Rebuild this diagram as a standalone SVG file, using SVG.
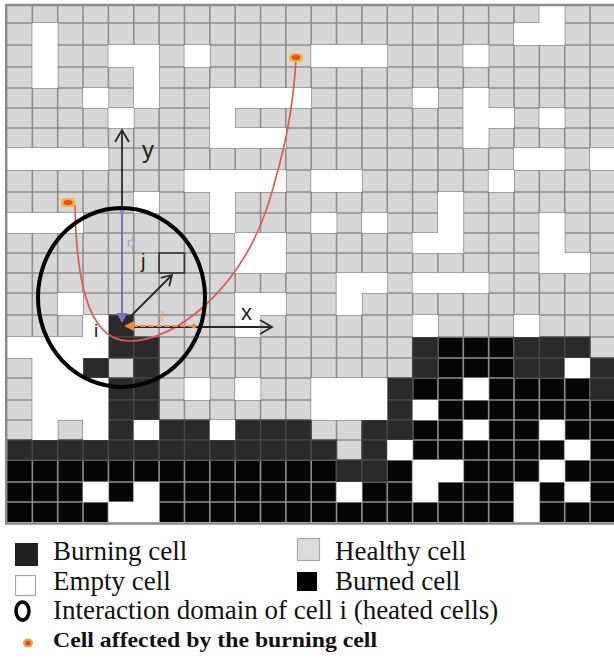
<svg xmlns="http://www.w3.org/2000/svg" width="614" height="661" viewBox="0 0 614 661">
<style>
.w{fill:#fff}
.x{fill:#050505}
.b{fill:#2a2a2a;stroke:#4a4a4a;stroke-width:1.2}
.gl{fill:none;stroke:#8e8e8e;stroke-width:1.6}
.ax{fill:none;stroke:#2a2a2a;stroke-width:1.8}
.lg{font-family:"Liberation Serif","Times New Roman",serif;font-size:27px;fill:#111}
.lb{font-family:"Liberation Sans",Arial,sans-serif;fill:#222}
</style>
<rect width="614" height="661" fill="#fff"/>
<g id="grid">
<rect x="7" y="5" width="608" height="517" fill="#d7d7d7"/>
<!-- burned cells -->
<g id="burned">
<rect class="x" x="437.95" y="337" width="76.05" height="21"/>
<rect class="x" x="437.95" y="358" width="76.05" height="20"/>
<rect class="x" x="412.6" y="378" width="50.7" height="22"/>
<rect class="x" x="488.65" y="378" width="101.4" height="22"/>
<rect class="x" x="437.95" y="400" width="177.45" height="20"/>
<rect class="x" x="412.6" y="420" width="50.7" height="20"/>
<rect class="x" x="488.65" y="420" width="50.7" height="20"/>
<rect class="x" x="564.7" y="420" width="50.7" height="20"/>
<rect class="x" x="412.6" y="440" width="152.1" height="20"/>
<rect class="x" x="590.05" y="440" width="25.35" height="20"/>
<rect class="x" x="7" y="460" width="329.55" height="22"/>
<rect class="x" x="387.25" y="460" width="25.35" height="22"/>
<rect class="x" x="463.3" y="460" width="76.05" height="22"/>
<rect class="x" x="564.7" y="460" width="50.7" height="22"/>
<rect class="x" x="7" y="482" width="76.05" height="20"/>
<rect class="x" x="108.4" y="482" width="25.35" height="20"/>
<rect class="x" x="159.1" y="482" width="177.45" height="20"/>
<rect class="x" x="361.9" y="482" width="50.7" height="20"/>
<rect class="x" x="437.95" y="482" width="76.05" height="20"/>
<rect class="x" x="539.35" y="482" width="25.35" height="20"/>
<rect class="x" x="590.05" y="482" width="25.35" height="20"/>
<rect class="x" x="7" y="502" width="101.4" height="20"/>
<rect class="x" x="159.1" y="502" width="354.9" height="20"/>
<rect class="x" x="539.35" y="502" width="76.05" height="20"/>
</g>
<path class="gl" d="M32.35 5V522M57.7 5V522M83.05 5V522M108.4 5V522M133.75 5V522M159.1 5V522M184.45 5V522M209.8 5V522M235.15 5V522M260.5 5V522M285.85 5V522M311.2 5V522M336.55 5V522M361.9 5V522M387.25 5V522M412.6 5V522M437.95 5V522M463.3 5V522M488.65 5V522M514 5V522M539.35 5V522M564.7 5V522M590.05 5V522M7 23H614M7 45H614M7 67H614M7 88H614M7 108H614M7 128H614M7 148H614M7 170H614M7 192H614M7 213H614M7 233H614M7 253H614M7 273H614M7 293H614M7 315H614M7 337H614M7 358H614M7 378H614M7 400H614M7 420H614M7 440H614M7 460H614M7 482H614M7 502H614"/>
<!-- burning cells -->
<g id="burning">
<rect class="b" x="108.4" y="315" width="25.35" height="22"/>
<rect class="b" x="108.4" y="337" width="25.35" height="21"/>
<rect class="b" x="133.75" y="337" width="25.35" height="21"/>
<rect class="b" x="412.6" y="337" width="25.35" height="21"/>
<rect class="b" x="514" y="337" width="25.35" height="21"/>
<rect class="b" x="539.35" y="337" width="25.35" height="21"/>
<rect class="b" x="564.7" y="337" width="25.35" height="21"/>
<rect class="b" x="83.05" y="358" width="25.35" height="20"/>
<rect class="b" x="133.75" y="358" width="25.35" height="20"/>
<rect class="b" x="412.6" y="358" width="25.35" height="20"/>
<rect class="b" x="514" y="358" width="25.35" height="20"/>
<rect class="b" x="539.35" y="358" width="25.35" height="20"/>
<rect class="b" x="590.05" y="358" width="25.35" height="20"/>
<rect class="b" x="108.4" y="378" width="25.35" height="22"/>
<rect class="b" x="133.75" y="378" width="25.35" height="22"/>
<rect class="b" x="387.25" y="378" width="25.35" height="22"/>
<rect class="b" x="590.05" y="378" width="25.35" height="22"/>
<rect class="b" x="108.4" y="400" width="25.35" height="20"/>
<rect class="b" x="133.75" y="400" width="25.35" height="20"/>
<rect class="b" x="387.25" y="400" width="25.35" height="20"/>
<rect class="b" x="108.4" y="420" width="25.35" height="20"/>
<rect class="b" x="159.1" y="420" width="25.35" height="20"/>
<rect class="b" x="184.45" y="420" width="25.35" height="20"/>
<rect class="b" x="235.15" y="420" width="25.35" height="20"/>
<rect class="b" x="260.5" y="420" width="25.35" height="20"/>
<rect class="b" x="285.85" y="420" width="25.35" height="20"/>
<rect class="b" x="361.9" y="420" width="25.35" height="20"/>
<rect class="b" x="387.25" y="420" width="25.35" height="20"/>
<rect class="b" x="7" y="440" width="25.35" height="20"/>
<rect class="b" x="32.35" y="440" width="25.35" height="20"/>
<rect class="b" x="57.7" y="440" width="25.35" height="20"/>
<rect class="b" x="83.05" y="440" width="25.35" height="20"/>
<rect class="b" x="108.4" y="440" width="25.35" height="20"/>
<rect class="b" x="133.75" y="440" width="25.35" height="20"/>
<rect class="b" x="159.1" y="440" width="25.35" height="20"/>
<rect class="b" x="184.45" y="440" width="25.35" height="20"/>
<rect class="b" x="209.8" y="440" width="25.35" height="20"/>
<rect class="b" x="235.15" y="440" width="25.35" height="20"/>
<rect class="b" x="260.5" y="440" width="25.35" height="20"/>
<rect class="b" x="285.85" y="440" width="25.35" height="20"/>
<rect class="b" x="311.2" y="440" width="25.35" height="20"/>
<rect class="b" x="361.9" y="440" width="25.35" height="20"/>
<rect class="b" x="336.55" y="460" width="25.35" height="22"/>
<rect class="b" x="361.9" y="460" width="25.35" height="22"/>
</g>
<!-- empty cells -->
<g id="empty">
<rect class="w" x="539.35" y="5" width="25.35" height="18"/>
<rect class="w" x="32.35" y="23" width="25.35" height="22"/>
<rect class="w" x="514" y="23" width="50.7" height="22"/>
<rect class="w" x="32.35" y="45" width="25.35" height="22"/>
<rect class="w" x="108.4" y="45" width="50.7" height="22"/>
<rect class="w" x="184.45" y="45" width="25.35" height="22"/>
<rect class="w" x="311.2" y="45" width="76.05" height="22"/>
<rect class="w" x="463.3" y="45" width="25.35" height="22"/>
<rect class="w" x="32.35" y="67" width="25.35" height="21"/>
<rect class="w" x="133.75" y="67" width="25.35" height="21"/>
<rect class="w" x="83.05" y="88" width="25.35" height="20"/>
<rect class="w" x="133.75" y="88" width="25.35" height="20"/>
<rect class="w" x="209.8" y="88" width="101.4" height="20"/>
<rect class="w" x="412.6" y="88" width="25.35" height="20"/>
<rect class="w" x="463.3" y="88" width="25.35" height="20"/>
<rect class="w" x="108.4" y="108" width="25.35" height="20"/>
<rect class="w" x="209.8" y="108" width="25.35" height="20"/>
<rect class="w" x="463.3" y="108" width="50.7" height="20"/>
<rect class="w" x="539.35" y="108" width="25.35" height="20"/>
<rect class="w" x="209.8" y="128" width="76.05" height="20"/>
<rect class="w" x="463.3" y="128" width="25.35" height="20"/>
<rect class="w" x="7" y="148" width="101.4" height="22"/>
<rect class="w" x="514" y="148" width="50.7" height="22"/>
<rect class="w" x="590.05" y="148" width="25.35" height="22"/>
<rect class="w" x="184.45" y="170" width="101.4" height="22"/>
<rect class="w" x="311.2" y="170" width="50.7" height="22"/>
<rect class="w" x="488.65" y="170" width="25.35" height="22"/>
<rect class="w" x="133.75" y="192" width="25.35" height="21"/>
<rect class="w" x="209.8" y="192" width="25.35" height="21"/>
<rect class="w" x="437.95" y="192" width="25.35" height="21"/>
<rect class="w" x="7" y="213" width="76.05" height="20"/>
<rect class="w" x="209.8" y="213" width="25.35" height="20"/>
<rect class="w" x="311.2" y="213" width="25.35" height="20"/>
<rect class="w" x="361.9" y="213" width="25.35" height="20"/>
<rect class="w" x="437.95" y="213" width="25.35" height="20"/>
<rect class="w" x="539.35" y="213" width="25.35" height="20"/>
<rect class="w" x="235.15" y="233" width="50.7" height="20"/>
<rect class="w" x="412.6" y="233" width="50.7" height="20"/>
<rect class="w" x="539.35" y="233" width="25.35" height="20"/>
<rect class="w" x="235.15" y="253" width="50.7" height="20"/>
<rect class="w" x="539.35" y="253" width="50.7" height="20"/>
<rect class="w" x="336.55" y="273" width="50.7" height="20"/>
<rect class="w" x="412.6" y="273" width="76.05" height="20"/>
<rect class="w" x="57.7" y="293" width="25.35" height="22"/>
<rect class="w" x="235.15" y="293" width="50.7" height="22"/>
<rect class="w" x="336.55" y="293" width="25.35" height="22"/>
<rect class="w" x="83.05" y="315" width="25.35" height="22"/>
<rect class="w" x="235.15" y="315" width="25.35" height="22"/>
<rect class="w" x="412.6" y="315" width="25.35" height="22"/>
<rect class="w" x="514" y="315" width="25.35" height="22"/>
<rect class="w" x="7" y="337" width="101.4" height="21"/>
<rect class="w" x="32.35" y="358" width="50.7" height="20"/>
<rect class="w" x="564.7" y="358" width="25.35" height="20"/>
<rect class="w" x="32.35" y="378" width="76.05" height="22"/>
<rect class="w" x="184.45" y="378" width="25.35" height="22"/>
<rect class="w" x="235.15" y="378" width="25.35" height="22"/>
<rect class="w" x="311.2" y="378" width="76.05" height="22"/>
<rect class="w" x="463.3" y="378" width="25.35" height="22"/>
<rect class="w" x="32.35" y="400" width="76.05" height="20"/>
<rect class="w" x="311.2" y="400" width="76.05" height="20"/>
<rect class="w" x="412.6" y="400" width="25.35" height="20"/>
<rect class="w" x="32.35" y="420" width="25.35" height="20"/>
<rect class="w" x="83.05" y="420" width="25.35" height="20"/>
<rect class="w" x="133.75" y="420" width="25.35" height="20"/>
<rect class="w" x="209.8" y="420" width="25.35" height="20"/>
<rect class="w" x="463.3" y="420" width="25.35" height="20"/>
<rect class="w" x="539.35" y="420" width="25.35" height="20"/>
<rect class="w" x="387.25" y="440" width="25.35" height="20"/>
<rect class="w" x="564.7" y="440" width="25.35" height="20"/>
<rect class="w" x="412.6" y="460" width="50.7" height="22"/>
<rect class="w" x="539.35" y="460" width="25.35" height="22"/>
<rect class="w" x="83.05" y="482" width="25.35" height="20"/>
<rect class="w" x="133.75" y="482" width="25.35" height="20"/>
<rect class="w" x="336.55" y="482" width="25.35" height="20"/>
<rect class="w" x="412.6" y="482" width="25.35" height="20"/>
<rect class="w" x="514" y="482" width="25.35" height="20"/>
<rect class="w" x="564.7" y="482" width="25.35" height="20"/>
<rect class="w" x="108.4" y="502" width="50.7" height="20"/>
<rect class="w" x="514" y="502" width="25.35" height="20"/>
</g>
<rect x="6.2" y="5" width="610" height="518.5" fill="none" stroke="#8a8a8a" stroke-width="2.5"/>
</g>
<g id="overlay">
<rect id="cell-j" x="159.1" y="253" width="25.35" height="20" fill="none" stroke="#333" stroke-width="1.6"/>
<path d="M75 205C76 270 85 340 128 341C175 342 240 290 268 205C285 150 293 110 296 60" fill="none" stroke="#de5a5a" stroke-width="1.7"/>
<g id="axes">
<path class="ax" d="M122 326V130M115 142L122 130L129 142"/>
<path class="ax" d="M122 327H272M260 320L272 327L260 334"/>
<path class="ax" d="M124 323L172 275M160.7 277.9L172 275L169.2 286.3"/>
</g>
<line x1="122" y1="212" x2="122" y2="316" stroke="#8f86c8" stroke-width="1.6"/>
<circle cx="122" cy="212" r="2.5" fill="#8f86c8"/>
<polygon points="116.5,313 127.5,313 122,323" fill="#7e74c2"/>
<line x1="132" y1="326" x2="195" y2="326" stroke="#f08a3c" stroke-width="1.8" stroke-dasharray="6 2"/>
<polygon points="134,321 134,331 124,326" fill="#f08a3c"/>
<circle cx="194" cy="326" r="2.2" fill="#f08a3c"/>
<text x="127" y="246" font-family="Liberation Sans,Arial,sans-serif" font-size="11" fill="#9b93cf">r<tspan font-size="8" dy="3">y</tspan><tspan font-size="8" dx="-4" dy="-8">a</tspan></text>
<text x="157" y="319" font-family="Liberation Sans,Arial,sans-serif" font-size="10" fill="#f3a060">r<tspan font-size="7" dy="2">x</tspan><tspan font-size="7" dx="-3" dy="-6">a</tspan></text>
<text class="lb" x="142" y="158" font-size="24">y</text>
<text class="lb" x="241" y="320" font-size="22">x</text>
<text class="lb" x="141" y="268" font-size="20">j</text>
<text class="lb" x="94" y="337" font-size="19">i</text>
<ellipse cx="121.5" cy="297.5" rx="83.5" ry="89.5" fill="none" stroke="#000" stroke-width="4"/>
<g id="marker-1"><rect x="289" y="53" width="14" height="9" rx="3.5" fill="#f6b73c"/><ellipse cx="296" cy="57.5" rx="4.5" ry="2.8" fill="#e2532a"/></g>
<g id="marker-2"><rect x="61" y="198" width="14" height="9" rx="3.5" fill="#f6b73c"/><ellipse cx="68" cy="202.5" rx="4.5" ry="2.8" fill="#e2532a"/></g>
</g>
<g id="legend">
<g id="lg-burning"><rect x="15" y="543" width="23" height="23" fill="#222"/><text class="lg" x="53" y="560">Burning cell</text></g>
<g id="lg-healthy"><rect x="297.5" y="538.5" width="22" height="22" fill="#dcdcdc" stroke="#a8a8a8" stroke-width="1.2"/><text class="lg" x="335" y="560">Healthy cell</text></g>
<g id="lg-empty"><rect x="15.5" y="575.5" width="20" height="20" fill="#fff" stroke="#a8a8a8" stroke-width="1.2"/><text class="lg" x="53" y="590">Empty cell</text></g>
<g id="lg-burned"><rect x="297" y="572" width="20" height="19" fill="#000"/><text class="lg" x="335" y="590">Burned cell</text></g>
<g id="lg-domain"><ellipse cx="22.5" cy="611" rx="6.5" ry="9" fill="none" stroke="#000" stroke-width="3.5"/><text class="lg" x="53" y="619">Interaction domain of cell i (heated cells)</text></g>
<g id="lg-affected"><ellipse cx="28" cy="643" rx="5" ry="4.5" fill="#f2a33a"/><ellipse cx="28" cy="643" rx="2.8" ry="2.5" fill="#e0502a"/><text x="53" y="647" font-family="Liberation Serif,'Times New Roman',serif" font-weight="bold" font-size="21" fill="#111" textLength="324" lengthAdjust="spacingAndGlyphs">Cell affected by the burning cell</text></g>
</g>
</svg>
